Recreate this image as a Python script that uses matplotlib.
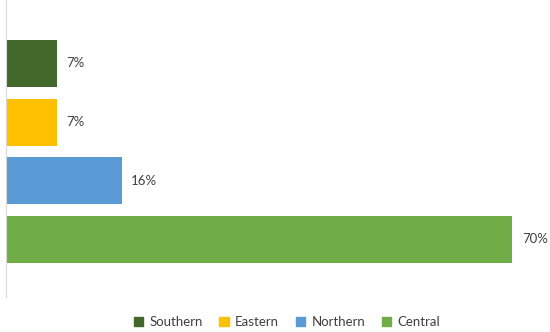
import matplotlib.pyplot as plt
from matplotlib.patches import Patch

regions = ["Central", "Northern", "Eastern", "Southern"]
shares = [70, 16, 7, 7]
colors = ["#70AD47", "#5B9BD5", "#FFC000", "#43682B"]
legend_order = ["Southern", "Eastern", "Northern", "Central"]

plt.rcParams['font.family'] = ['Lato', 'DejaVu Sans']

fig = plt.figure(figsize=(5.5, 3.32), dpi=100)
ax = fig.add_axes([6 / 550, 35 / 332, 539 / 550, 297 / 332])

pos = range(len(regions))
ax.barh(pos, shares, height=0.8, color=colors)
for p, v in zip(pos, shares):
    ax.text(v + 1.3, p, f"{v}%", va="center", ha="left", fontsize=9.5, color="#404040")

ax.set_xlim(0, 74.5)
ax.set_ylim(-0.98, 4.08)
ax.set_xticks([])
ax.set_yticks([])
for s in ["top", "right", "bottom"]:
    ax.spines[s].set_visible(False)
ax.spines["left"].set_color("#D9D9D9")

handles = [Patch(color=colors[regions.index(r)], label=r) for r in legend_order]
fig.legend(handles=handles, loc="center", bbox_to_anchor=(287 / 550, 10 / 332), ncol=4,
           frameon=False, fontsize=9.5, handlelength=0.7, handleheight=0.7,
           columnspacing=1.25, handletextpad=0.5, labelcolor="#404040")

fig.savefig("out.png", dpi=100)
